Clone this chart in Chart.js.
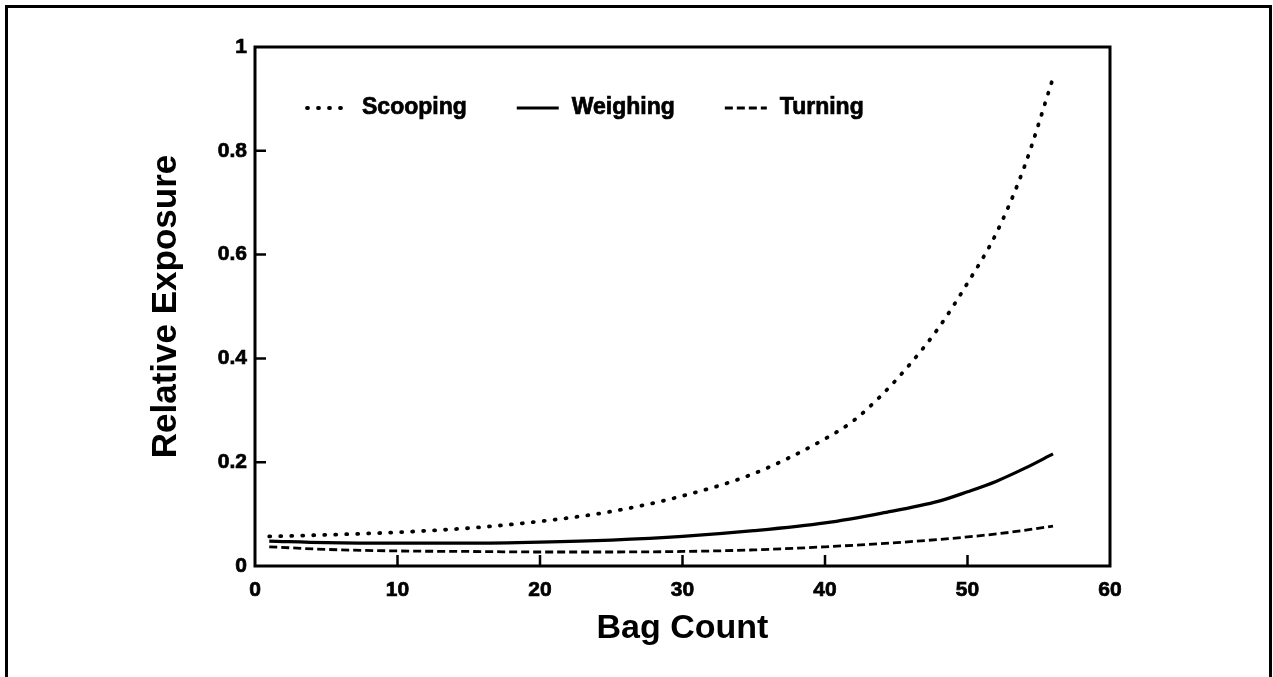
<!DOCTYPE html>
<html>
<head>
<meta charset="utf-8">
<script src="https://cdn.jsdelivr.net/npm/chart.js@4/dist/chart.umd.min.js"></script>
<style>
  html, body { margin: 0; padding: 0; background: #fff; }
  #wrap { position: absolute; left: 0; top: 0; width: 1273px; height: 677px; }
</style>
</head>
<body>
<div id="wrap"><canvas id="c" width="1273" height="677"></canvas></div>
<script>
// ---- data ----
const seriesLabels = ['Scooping', 'Weighing', 'Turning'];

const scoopingX = [1, 5, 10, 15, 20, 25, 30, 35, 40, 42, 44, 46, 48, 50, 52, 54, 56];
const scoopingY = [0.057, 0.060, 0.065, 0.073, 0.086, 0.105, 0.135, 0.178, 0.245, 0.28, 0.33, 0.39, 0.46, 0.545, 0.64, 0.77, 0.94];

const weighingX = [1, 5, 10, 15, 20, 25, 30, 35, 40, 44, 48, 50, 52, 54, 56];
const weighingY = [0.048, 0.045, 0.044, 0.044, 0.046, 0.050, 0.057, 0.068, 0.083, 0.102, 0.125, 0.143, 0.163, 0.188, 0.216];

const turningX = [1, 5, 10, 15, 20, 25, 30, 35, 40, 45, 50, 53, 56];
const turningY = [0.037, 0.032, 0.029, 0.028, 0.027, 0.027, 0.028, 0.031, 0.037, 0.045, 0.056, 0.065, 0.077];

const xTickValues = [0, 10, 20, 30, 40, 50, 60];
const xTickLabels = ['0', '10', '20', '30', '40', '50', '60'];
const yTickValues = [0, 0.2, 0.4, 0.6, 0.8, 1];
const yTickLabels = ['0', '0.2', '0.4', '0.6', '0.8', '1'];

const xTitle = 'Bag Count';
const yTitle = 'Relative Exposure';

// ---- build ----
const FONT = "'Liberation Sans', Arial, Helvetica, sans-serif";
const toPts = (xs, ys) => xs.map((x, i) => ({ x: x, y: ys[i] }));

const styles = [
  { borderDash: [1, 10], borderWidth: 3.8, borderCapStyle: 'round' },
  { borderDash: [], borderWidth: 3.2, borderCapStyle: 'butt' },
  { borderDash: [8, 4], borderWidth: 2.8, borderCapStyle: 'butt' }
];
const pts = [toPts(scoopingX, scoopingY), toPts(weighingX, weighingY), toPts(turningX, turningY)];

const datasets = seriesLabels.map((lab, i) => Object.assign({
  label: lab,
  data: pts[i],
  showLine: true,
  borderColor: '#000',
  backgroundColor: '#000',
  pointRadius: 0,
  fill: false,
  cubicInterpolationMode: 'monotone'
}, styles[i]));

const decorPlugin = {
  id: 'decor',
  beforeDraw(chart) {
    const ctx = chart.ctx;
    ctx.save();
    ctx.fillStyle = '#fff';
    ctx.fillRect(0, 0, chart.width, chart.height);
    // outer frame (left, top, right)
    ctx.strokeStyle = '#000';
    ctx.lineWidth = 3;
    ctx.beginPath();
    ctx.moveTo(6.5, 677);
    ctx.lineTo(6.5, 6.5);
    ctx.lineTo(1270.5, 6.5);
    ctx.lineTo(1270.5, 677);
    ctx.stroke();
    ctx.restore();
  },
  afterDraw(chart) {
    const ctx = chart.ctx;
    const a = chart.chartArea;
    const xs = chart.scales.x, ys = chart.scales.y;
    ctx.save();
    ctx.strokeStyle = '#000';
    ctx.lineWidth = 3;
    ctx.setLineDash([]);
    ctx.strokeRect(a.left, a.top, a.right - a.left, a.bottom - a.top);
    // inward ticks
    ctx.lineWidth = 2.5;
    ctx.beginPath();
    xTickValues.slice(1, -1).forEach(v => {
      const px = xs.getPixelForValue(v);
      ctx.moveTo(px, a.bottom);
      ctx.lineTo(px, a.bottom - 11);
    });
    yTickValues.slice(1, -1).forEach(v => {
      const py = ys.getPixelForValue(v);
      ctx.moveTo(a.left, py);
      ctx.lineTo(a.left + 11, py);
    });
    ctx.stroke();
    // legend inside plot area
    ctx.font = 'bold 23px ' + FONT;
    ctx.textBaseline = 'middle';
    ctx.fillStyle = '#000';
    ctx.strokeStyle = '#000';
    let x = a.left + 52;
    const y = a.top + 61;
    chart.data.datasets.forEach((ds) => {
      ctx.save();
      ctx.lineWidth = ds.borderWidth;
      ctx.lineCap = ds.borderCapStyle;
      ctx.setLineDash(ds.borderDash);
      ctx.beginPath();
      ctx.moveTo(x, y);
      ctx.lineTo(x + 42, y);
      ctx.stroke();
      ctx.restore();
      x += 55;
      ctx.lineWidth = 0.7;
      ctx.strokeText(ds.label, x, y);
      ctx.fillText(ds.label, x, y);
      x += ctx.measureText(ds.label).width + 50;
    });
    ctx.restore();
  }
};

new Chart(document.getElementById('c'), {
  type: 'scatter',
  data: { datasets: datasets },
  options: {
    responsive: false,
    animation: false,
    layout: { padding: { left: 0, top: 47, right: 163, bottom: 0 } },
    plugins: { legend: { display: false }, tooltip: { enabled: false } },
    scales: {
      x: {
        type: 'linear',
        min: 0, max: 60,
        afterBuildTicks: (s) => { s.ticks = xTickValues.map(v => ({ value: v })); },
        afterFit: (s) => { s.height = 111; },
        grid: { display: false, drawTicks: false },
        border: { display: false },
        ticks: {
          padding: 12,
          color: '#000',
          textStrokeColor: '#000',
          textStrokeWidth: 0.7,
          font: { family: FONT, size: 21, weight: 'bold' },
          callback: (v) => { const i = xTickValues.indexOf(v); return i >= 0 ? xTickLabels[i] : ''; }
        },
        title: {
          display: true, text: xTitle, color: '#000',
          font: { family: FONT, size: 34, weight: 'bold' },
          padding: { top: 0, bottom: 28 }
        }
      },
      y: {
        type: 'linear',
        min: 0, max: 1,
        afterBuildTicks: (s) => { s.ticks = yTickValues.map(v => ({ value: v })); },
        afterFit: (s) => { s.width = 255; },
        grid: { display: false, drawTicks: false },
        border: { display: false },
        ticks: {
          padding: 8,
          color: '#000',
          textStrokeColor: '#000',
          textStrokeWidth: 0.7,
          font: { family: FONT, size: 21, weight: 'bold' },
          callback: (v) => { const i = yTickValues.findIndex(t => Math.abs(t - v) < 1e-9); return i >= 0 ? yTickLabels[i] : ''; }
        },
        title: {
          display: true, text: yTitle, color: '#000',
          font: { family: FONT, size: 35, weight: 'bold' },
          padding: { top: 145, bottom: 0 }
        }
      }
    }
  },
  plugins: [decorPlugin]
});
</script>
</body>
</html>
